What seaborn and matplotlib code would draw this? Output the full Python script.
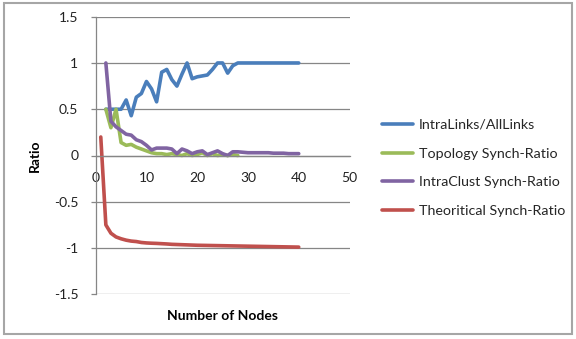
import matplotlib
matplotlib.use("Agg")
import matplotlib.pyplot as plt
import seaborn as sns
import pandas as pd
from matplotlib.patches import Rectangle

# ---- data ----
x_blue = list(range(2, 41))
intra_links = [0.5, 0.5, 0.5, 0.5, 0.6, 0.43, 0.63, 0.67, 0.8, 0.72, 0.58, 0.9, 0.93, 0.82, 0.75,
               0.88, 1.0, 0.83, 0.85, 0.86, 0.87, 0.93, 1.0, 1.0, 0.89, 0.97, 1.0,
               1.0, 1.0, 1.0, 1.0, 1.0, 1.0, 1.0, 1.0, 1.0, 1.0, 1.0, 1.0]

x_green = list(range(2, 29))
topology = [0.5, 0.3, 0.5, 0.14, 0.11, 0.12, 0.09, 0.07, 0.05, 0.03, 0.02, 0.02, 0.01, 0.02,
            0.01, 0.0, 0.02, 0.0, 0.01, 0.03, 0.0, 0.02, 0.0, 0.01, 0.0, 0.01, 0.0]

x_purple = list(range(2, 41))
intra_clust = [1.0, 0.37, 0.31, 0.27, 0.23, 0.22, 0.17, 0.15, 0.11, 0.06, 0.08, 0.08, 0.08, 0.07,
               0.02, 0.07, 0.05, 0.02, 0.04, 0.05, 0.01, 0.03, 0.05, 0.02, 0.0, 0.04, 0.04,
               0.035, 0.03, 0.03, 0.03, 0.03, 0.03, 0.025, 0.025, 0.025, 0.02, 0.02, 0.02]

x_red = list(range(1, 41))
theoretical = [0.2, -0.75, -0.84, -0.88, -0.9, -0.915, -0.925, -0.93, -0.94, -0.945,
               -0.948, -0.95, -0.953, -0.956, -0.96, -0.962, -0.964, -0.966, -0.968, -0.97,
               -0.971, -0.972, -0.973, -0.974, -0.975, -0.976, -0.977, -0.978, -0.979, -0.98,
               -0.981, -0.982, -0.983, -0.984, -0.985, -0.986, -0.987, -0.988, -0.989, -0.99]

series_names = ["IntraLinks/AllLinks", "Topology Synch-Ratio",
                "IntraClust Synch-Ratio", "Theoritical Synch-Ratio"]
colors = ["#4A7EBB", "#9BBB59", "#8064A2", "#C0504D"]

x_ticks = [0, 10, 20, 30, 40, 50]
y_ticks = [-1.5, -1, -0.5, 0, 0.5, 1, 1.5]
y_ticklabels = ["-1.5", "-1", "-0.5", "0", "0.5", "1", "1.5"]

frames = []
for name, xs, ys in zip(series_names,
                        [x_blue, x_green, x_purple, x_red],
                        [intra_links, topology, intra_clust, theoretical]):
    frames.append(pd.DataFrame({"Nodes": xs, "Ratio": ys, "Series": name}))
df = pd.concat(frames, ignore_index=True)

# ---- figure ----
sns.set_theme(style="white")
plt.rcParams["font.family"] = ["Lato", "DejaVu Sans"]

fig = plt.figure(figsize=(5.76, 3.39), dpi=100)
W, H = 576, 339
fig.patches.append(Rectangle((4 / W, 5 / H), 568 / W, 331 / H, transform=fig.transFigure,
                             fill=False, edgecolor="#A6A6A6", linewidth=1.5))

ax = fig.add_axes([95.7 / W, (H - 294.3) / H, 253.8 / W, 277.6 / H])

sns.lineplot(data=df, x="Nodes", y="Ratio", hue="Series", hue_order=series_names,
             palette=dict(zip(series_names, colors)), estimator=None, sort=False,
             linewidth=2.6, ax=ax)

ax.set_xlim(0, 50)
ax.set_ylim(-1.5, 1.5)
ax.set_yticks(y_ticks)
ax.set_yticklabels(y_ticklabels)
ax.set_xticks(x_ticks)
ax.set_xticklabels([str(t) for t in x_ticks])

ax.grid(axis="y", color="#868686", linewidth=0.9)
ax.grid(axis="x", visible=False)
ax.set_axisbelow(True)

for s in ["top", "right"]:
    ax.spines[s].set_visible(False)
ax.spines["left"].set_color("#868686")
ax.spines["left"].set_linewidth(0.9)
ax.spines["bottom"].set_position(("data", 0))
ax.spines["bottom"].set_color("#868686")
ax.spines["bottom"].set_linewidth(0.9)

ax.tick_params(axis="y", length=3.5, width=0.9, color="#868686", pad=9,
               labelsize=10, labelcolor="#222222", left=True)
ax.tick_params(axis="x", length=0, pad=12, labelsize=10, labelcolor="#222222", bottom=True)

ax.set_ylabel("Ratio", fontsize=10, fontweight="bold", color="black")
ax.yaxis.set_label_coords(-0.215, 0.5)
ax.set_xlabel("Number of Nodes", fontsize=10, fontweight="bold", color="black")
ax.xaxis.set_label_coords(0.5, -0.055)

handles, labels = ax.get_legend_handles_labels()
if ax.legend_:
    ax.legend_.remove()
leg = fig.legend(handles, labels, loc="center left",
                 bbox_to_anchor=(382 / W, 1 - 168 / H), frameon=False,
                 fontsize=10.3, handlelength=2.2, handletextpad=0.36,
                 labelspacing=1.18, borderpad=0, borderaxespad=0)
for line in leg.get_lines():
    line.set_linewidth(2.6)

fig.savefig("out.png", dpi=100)
